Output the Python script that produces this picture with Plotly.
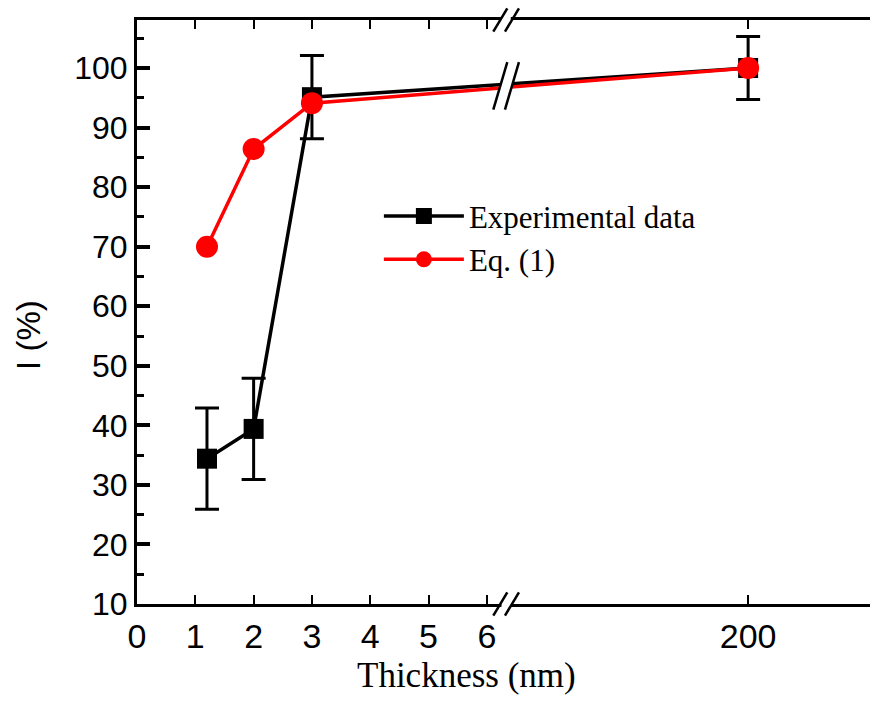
import plotly.graph_objects as go

# ---- data ----
thickness = [1.2, 2, 3, 200]
exp_values = [34.4, 39.4, 95.1, 100.0]
exp_errors = [8.5, 8.5, 7.0, 5.3]
eq_values = [70.0, 86.4, 94.1, 100.0]
x_tick_values = [0, 1, 2, 3, 4, 5, 6, 200]
x_tick_labels = ["0", "1", "2", "3", "4", "5", "6", "200"]

# broken x axis: linear up to the break, compressed segment afterwards
BREAK_AT = 6.33
SEG2_START = 190.0
SEG2_SCALE = 0.415


def to_disp(v):
    return v if v <= BREAK_AT else BREAK_AT + (v - SEG2_START) * SEG2_SCALE


xd = [to_disp(v) for v in thickness]

fig = go.Figure()
fig.add_trace(go.Scatter(
    x=xd, y=exp_values, mode="lines+markers", name="Experimental data",
    line=dict(color="black", width=3.5),
    marker=dict(symbol="square", size=20, color="black"),
    error_y=dict(type="data", array=exp_errors, color="black", thickness=3, width=12),
))
fig.add_trace(go.Scatter(
    x=xd, y=eq_values, mode="lines+markers", name="Eq. (1)",
    line=dict(color="#ff0000", width=3.5),
    marker=dict(symbol="circle", size=22, color="#ff0000"),
))

shapes = []
bx = BREAK_AT
# axis break marks (bottom and top)
for yp in (0, 1):
    shapes.append(dict(type="line", xref="x", yref="paper", x0=bx - 0.08, x1=bx + 0.08,
                       y0=yp, y1=yp, line=dict(color="white", width=6)))
    for dx in (-0.1, 0.1):
        shapes.append(dict(type="line", xref="x", yref="paper",
                           x0=bx + dx - 0.12, x1=bx + dx + 0.12, y0=yp - 0.02, y1=yp + 0.02,
                           line=dict(color="black", width=2.5)))
# break marks on the data lines
shapes.append(dict(type="path", xref="x", yref="y",
                   path=f"M {bx-0.22},93.2 L {bx+0.02},100.7 L {bx+0.22},100.7 L {bx-0.02},93.2 Z",
                   fillcolor="white", line=dict(width=0)))
for dx in (-0.1, 0.1):
    shapes.append(dict(type="line", xref="x", yref="y",
                       x0=bx + dx - 0.12, x1=bx + dx + 0.12, y0=93.0, y1=101.0,
                       line=dict(color="black", width=2.5)))

fig.update_layout(
    width=870, height=704,
    margin=dict(l=137, r=0, t=20, b=100),
    paper_bgcolor="white", plot_bgcolor="white",
    showlegend=True,
    legend=dict(x=0.33, y=0.71, xanchor="left", yanchor="top",
                font=dict(family="Liberation Serif", size=31, color="black"),
                bgcolor="rgba(0,0,0,0)", itemwidth=80, tracegroupgap=0),
    shapes=shapes,
    annotations=[
        dict(text="Thickness (nm)", xref="paper", yref="paper", x=0.45, y=-0.122,
             showarrow=False, font=dict(family="Liberation Serif", size=35, color="black"),
             xanchor="center", yanchor="middle"),
        dict(text="I (%)", xref="paper", yref="paper", x=-0.148, y=0.46, textangle=-90,
             showarrow=False, font=dict(family="Liberation Sans", size=33, color="black"),
             xanchor="center", yanchor="middle"),
    ],
    xaxis=dict(range=[0, 12.57], tickmode="array",
               tickvals=[to_disp(v) for v in x_tick_values], ticktext=x_tick_labels,
               ticks="inside", ticklen=9, tickwidth=2, tickcolor="black",
               showline=True, linewidth=3, linecolor="black", mirror="ticks",
               showgrid=False, zeroline=False,
               tickfont=dict(family="Liberation Sans Narrow, Liberation Sans", size=34, color="black")),
    yaxis=dict(range=[10, 108.06], tickmode="array", tickvals=list(range(10, 101, 10)),
               ticks="inside", ticklen=13, tickwidth=3.5, tickcolor="black",
               minor=dict(tickvals=[v + 5 for v in range(10, 101, 10)], ticks="inside",
                          ticklen=7, tickwidth=3, tickcolor="black"),
               showline=True, linewidth=3, linecolor="black",
               showgrid=False, zeroline=False,
               tickfont=dict(family="Liberation Sans", size=32, color="black")),
)

fig.write_html("out.html", config={"displayModeBar": False},
               post_script="document.body.style.margin='0';document.body.style.overflow='hidden';")
